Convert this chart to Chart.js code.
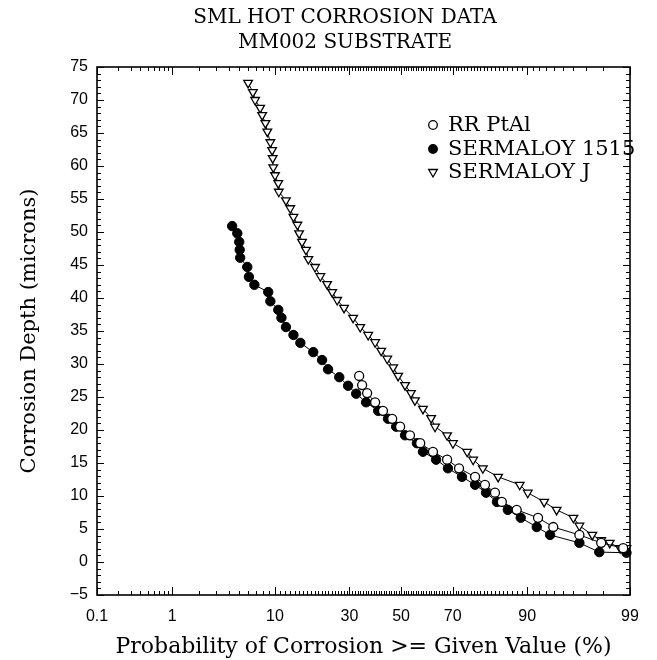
<!DOCTYPE html>
<html>
<head>
<meta charset="utf-8">
<script src="https://cdn.jsdelivr.net/npm/chart.js@4.4.0/dist/chart.umd.min.js"></script>
<style>
    body { margin: 0; background: #fff; }
    canvas { display: block; }
</style>
</head>
<body>
<canvas id="graficoCorrosao" width="657" height="660"></canvas>
<script>

// probabilidade (%) de corrosao >= valor e profundidade (microns)
const ptalProb = [33.5, 34.6, 36.5, 39.6, 42.7, 46.4, 49.6, 53.6, 57.7, 62.7, 68.0, 72.2, 77.4, 80.3, 83.0, 84.7, 88.0, 91.8, 93.9, 96.5, 97.9, 98.8];
const ptalDepth = [28.2, 26.8, 25.6, 24.2, 22.9, 21.7, 20.5, 19.2, 18.0, 16.7, 15.5, 14.2, 12.9, 11.7, 10.5, 9.1, 7.9, 6.7, 5.3, 4.1, 2.9, 2.1];

const s1515Prob = [4.3, 4.8, 5.0, 5.05, 5.1, 5.9, 6.1, 6.8, 8.85, 9.2, 10.6, 11.2, 12.1, 13.7, 15.3, 18.6, 21.1, 22.9, 26.5, 29.5, 32.4, 36.1, 40.8, 44.7, 48.0, 51.6, 56.4, 58.8, 63.9, 68.3, 73.2, 77.4, 80.6, 83.5, 86.1, 88.8, 91.6, 93.5, 96.5, 97.8, 98.9];
const s1515Depth = [50.9, 49.8, 48.5, 47.3, 46.1, 44.7, 43.2, 42.0, 40.9, 39.5, 38.2, 37.0, 35.6, 34.4, 33.2, 31.8, 30.6, 29.2, 28.0, 26.7, 25.5, 24.2, 22.9, 21.7, 20.5, 19.2, 18.0, 16.7, 15.5, 14.2, 12.9, 11.7, 10.5, 9.1, 7.9, 6.7, 5.3, 4.1, 2.9, 1.5, 1.4];

const sjProb = [6.0, 6.6, 6.9, 7.6, 7.9, 8.4, 8.7, 9.2, 9.5, 9.6, 9.7, 10.0, 10.6, 10.7, 12.1, 13.0, 13.7, 14.6, 15.0, 15.7, 16.7, 17.3, 19.1, 20.6, 22.6, 24.2, 25.8, 28.1, 31.3, 33.9, 36.9, 39.6, 42.0, 44.4, 46.8, 48.8, 51.6, 54.0, 55.6, 58.8, 62.0, 63.5, 68.0, 70.1, 74.9, 76.8, 79.7, 83.8, 88.6, 90.1, 92.7, 94.3, 96.0, 96.5, 97.4, 97.9, 98.3, 98.7, 98.9];
const sjDepth = [72.6, 71.2, 70.0, 68.8, 67.7, 66.5, 65.2, 63.6, 62.4, 61.2, 59.8, 58.6, 57.4, 56.1, 54.8, 53.6, 52.3, 51.1, 49.8, 48.5, 47.3, 45.9, 44.7, 43.3, 42.1, 40.9, 39.7, 38.5, 37.0, 35.6, 34.4, 33.3, 32.0, 30.8, 29.5, 28.2, 26.8, 25.6, 24.5, 23.2, 21.8, 20.5, 19.2, 18.0, 16.7, 15.5, 14.2, 12.9, 11.7, 10.5, 9.1, 7.9, 6.7, 5.5, 4.1, 3.3, 2.9, 2.1, 2.1];

const xTickValues = [0.1, 1, 10, 30, 50, 70, 90, 99];
const xTickLabels = ['0.1', '1', '10', '30', '50', '70', '90', '99'];
const yMin = -5;
const yMax = 75;
const yStep = 5;

const titulo = ['SML HOT CORROSION DATA', 'MM002 SUBSTRATE'];
const tituloX = 'Probability of Corrosion >= Given Value (%)';
const tituloY = 'Corrosion Depth (microns)';

// ticks menores do eixo de probabilidade
const xMinorTicks = [];
for (let i = 2; i <= 9; i++) xMinorTicks.push(i / 10);
for (let i = 2; i <= 98; i++) {
    if (xTickValues.indexOf(i) < 0) xMinorTicks.push(i);
}

// inversa da normal (Acklam) -> escala de probabilidade
function probit(pct) {
    const p = pct / 100;
    const a = [-3.969683028665376e+01, 2.209460984245205e+02, -2.759285104469687e+02, 1.383577518672690e+02, -3.066479806614716e+01, 2.506628277459239e+00];
    const b = [-5.447609879822406e+01, 1.615858368580409e+02, -1.556989798598866e+02, 6.680131188771972e+01, -1.328068155288572e+01];
    const c = [-7.784894002430293e-03, -3.223964580411365e-01, -2.400758277161838e+00, -2.549732539343734e+00, 4.374664141464968e+00, 2.938163982698783e+00];
    const d = [7.784695709041462e-03, 3.224671290700398e-01, 2.445134137142996e+00, 3.754408661907416e+00];
    const pLow = 0.02425;
    let q, r;
    if (p < pLow) {
        q = Math.sqrt(-2 * Math.log(p));
        return (((((c[0] * q + c[1]) * q + c[2]) * q + c[3]) * q + c[4]) * q + c[5]) / ((((d[0] * q + d[1]) * q + d[2]) * q + d[3]) * q + 1);
    } else if (p <= 1 - pLow) {
        q = p - 0.5;
        r = q * q;
        return (((((a[0] * r + a[1]) * r + a[2]) * r + a[3]) * r + a[4]) * r + a[5]) * q / (((((b[0] * r + b[1]) * r + b[2]) * r + b[3]) * r + b[4]) * r + 1);
    }
    q = Math.sqrt(-2 * Math.log(1 - p));
    return -(((((c[0] * q + c[1]) * q + c[2]) * q + c[3]) * q + c[4]) * q + c[5]) / ((((d[0] * q + d[1]) * q + d[2]) * q + d[3]) * q + 1);
}

function montarPontos(probs, depths) {
    return probs.map(function (p, i) {
        return { x: probit(p), y: depths[i] };
    });
}

const molduraETicks = {
    id: 'molduraETicks',
    beforeDatasetsDraw(chart) {
        const ctx = chart.ctx;
        const { left, right, top, bottom } = chart.chartArea;
        const sx = chart.scales.x;
        const sy = chart.scales.y;
        ctx.save();
        ctx.strokeStyle = '#000';
        ctx.lineWidth = 1.6;
        ctx.strokeRect(left, top, right - left, bottom - top);
        ctx.lineWidth = 1;
        ctx.beginPath();
        for (let v = yMin; v <= yMax; v++) {
            const py = Math.round(sy.getPixelForValue(v)) + 0.5;
            const len = (v % yStep === 0) ? 7 : 4;
            ctx.moveTo(left, py); ctx.lineTo(left + len, py);
            ctx.moveTo(right, py); ctx.lineTo(right - len, py);
        }
        xMinorTicks.forEach(function (p) {
            const px = Math.round(sx.getPixelForValue(probit(p))) + 0.5;
            ctx.moveTo(px, bottom); ctx.lineTo(px, bottom - 4);
            ctx.moveTo(px, top); ctx.lineTo(px, top + 4);
        });
        xTickValues.forEach(function (p) {
            const px = Math.round(sx.getPixelForValue(probit(p))) + 0.5;
            ctx.moveTo(px, bottom); ctx.lineTo(px, bottom - 8);
            ctx.moveTo(px, top); ctx.lineTo(px, top + 8);
        });
        ctx.stroke();
        ctx.restore();
    }
};

const tituloELegenda = {
    id: 'tituloELegenda',
    afterDraw(chart) {
        const ctx = chart.ctx;
        ctx.save();
        ctx.fillStyle = '#000';
        ctx.font = '20px "DejaVu Serif"';
        ctx.textAlign = 'center';
        ctx.textBaseline = 'middle';
        ctx.fillText(titulo[0], 345, 18);
        ctx.fillText(titulo[1], 345, 43);

        const itens = chart.data.datasets.slice().sort(function (a, b) { return a.legendPos - b.legendPos; });
        ctx.font = '21px "DejaVu Serif"';
        ctx.textAlign = 'left';
        const linhas = [125, 149, 172];
        itens.forEach(function (ds, i) {
            const y = linhas[i];
            const mx = 433;
            ctx.lineWidth = 1.3;
            ctx.strokeStyle = '#000';
            ctx.fillStyle = ds.pointBackgroundColor;
            ctx.beginPath();
            if (ds.pointStyle === 'triangle') {
                const r = 5;
                ctx.moveTo(mx, y + r);
                ctx.lineTo(mx - r * 0.866, y - r / 2);
                ctx.lineTo(mx + r * 0.866, y - r / 2);
                ctx.closePath();
            } else {
                ctx.arc(mx, y, 4.3, 0, Math.PI * 2);
            }
            ctx.fill();
            ctx.stroke();
            ctx.fillStyle = '#000';
            ctx.fillText(ds.label, 448, y + 1);
        });
        ctx.restore();
    }
};

const config = {
    type: 'scatter',
    data: {
        datasets: [{
            label: 'RR PtAl',
            legendPos: 0,
            data: montarPontos(ptalProb, ptalDepth),
            showLine: true,
            borderColor: '#000',
            borderWidth: 1,
            pointStyle: 'circle',
            pointRadius: 4.5,
            pointBorderWidth: 1.3,
            pointBackgroundColor: '#fff',
            pointBorderColor: '#000',
            order: 0
        }, {
            label: 'SERMALOY 1515',
            legendPos: 1,
            data: montarPontos(s1515Prob, s1515Depth),
            showLine: true,
            borderColor: '#000',
            borderWidth: 1,
            pointStyle: 'circle',
            pointRadius: 4.7,
            pointBorderWidth: 1,
            pointBackgroundColor: '#000',
            pointBorderColor: '#000',
            order: 1
        }, {
            label: 'SERMALOY J',
            legendPos: 2,
            data: montarPontos(sjProb, sjDepth),
            showLine: true,
            borderColor: '#000',
            borderWidth: 1,
            pointStyle: 'triangle',
            pointRotation: 180,
            pointRadius: 5,
            pointBorderWidth: 1.3,
            pointBackgroundColor: '#fff',
            pointBorderColor: '#000',
            order: 2
        }]
    },
    options: {
        responsive: false,
        animation: false,
        clip: false,
        layout: {
            padding: { top: 67, right: 27, left: 0, bottom: 0 }
        },
        plugins: {
            legend: { display: false },
            tooltip: { enabled: false },
            title: { display: false }
        },
        scales: {
            x: {
                type: 'linear',
                min: probit(xTickValues[0]),
                max: probit(xTickValues[xTickValues.length - 1]),
                afterBuildTicks: function (scale) {
                    scale.ticks = xTickValues.map(function (p) { return { value: probit(p) }; });
                },
                afterFit: function (scale) {
                    scale.height = 65;
                },
                grid: { display: false, drawTicks: false },
                border: { display: false },
                ticks: {
                    autoSkip: false,
                    maxRotation: 0,
                    padding: 12,
                    color: '#000',
                    font: { family: '"Liberation Sans"', size: 16 },
                    callback: function (value, index) {
                        return xTickLabels[index];
                    }
                },
                title: {
                    display: true,
                    text: tituloX,
                    color: '#000',
                    font: { family: '"DejaVu Serif"', size: 22 },
                    padding: { top: 0, bottom: 0 }
                }
            },
            y: {
                type: 'linear',
                min: yMin,
                max: yMax,
                afterFit: function (scale) {
                    scale.width = 97;
                },
                grid: { display: false, drawTicks: false },
                border: { display: false },
                ticks: {
                    stepSize: yStep,
                    padding: 9,
                    color: '#000',
                    font: { family: '"Liberation Sans"', size: 16 },
                    callback: function (value) {
                        return String(value).replace('-', '\u2212');
                    }
                },
                title: {
                    display: true,
                    text: tituloY,
                    color: '#000',
                    font: { family: '"DejaVu Serif"', size: 21 },
                    padding: { top: 17, bottom: 0 }
                }
            }
        }
    },
    plugins: [molduraETicks, tituloELegenda]
};

new Chart(document.getElementById('graficoCorrosao'), config);
</script>
</body>
</html>
